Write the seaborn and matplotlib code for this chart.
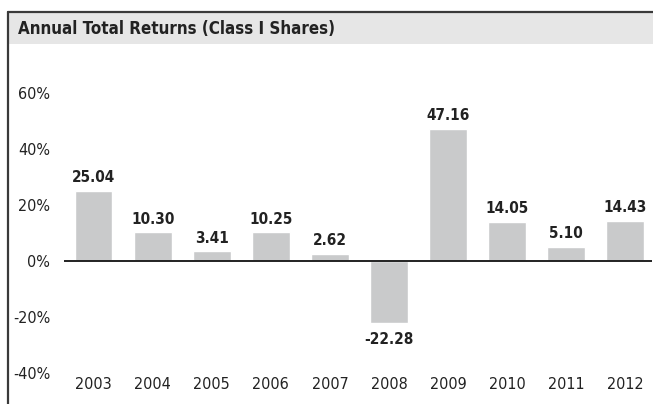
import matplotlib
matplotlib.use("Agg")
import matplotlib.pyplot as plt
import seaborn as sns
import pandas as pd
from matplotlib.patches import Rectangle
from matplotlib.lines import Line2D

years = ["2003", "2004", "2005", "2006", "2007", "2008", "2009", "2010", "2011", "2012"]
returns = [25.04, 10.30, 3.41, 10.25, 2.62, -22.28, 47.16, 14.05, 5.10, 14.43]
yticks = [-40, -20, 0, 20, 40, 60]
title = "Annual Total Returns (Class I Shares)"

sns.set_style("white")
plt.rcParams["font.family"] = ["DejaVu Sans"]
plt.rcParams["font.stretch"] = "condensed"

df = pd.DataFrame({"year": years, "ret": returns})

W, H = 653, 404
fig = plt.figure(figsize=(W / 100, H / 100), dpi=100)

# header band and frame
fig.patches.append(Rectangle((8 / W, 1 - 44 / H), 1, 31 / H, transform=fig.transFigure,
                             facecolor="#e6e6e6", edgecolor="none", zorder=0))
fig.lines.append(Line2D([8 / W, 8 / W], [0, 1 - 12 / H], transform=fig.transFigure,
                        color="#3a3a3a", lw=1.6))
fig.lines.append(Line2D([8 / W, 1], [1 - 12 / H, 1 - 12 / H], transform=fig.transFigure,
                        color="#3a3a3a", lw=1.6))
fig.text(18 / W, 1 - 29 / H, title, fontsize=12.2, fontweight="bold", va="center",
         ha="left", color="#222222")

ax = fig.add_axes([64 / W, (H - 373) / H, (652 - 64) / W, (373 - 50) / H])
sns.barplot(data=df, x="year", y="ret", color="#c9cacb", width=0.64, saturation=1,
            ax=ax)
ax.set_xlim(-0.5, 9.45)
ax.set_ylim(-40, -40 + (373 - 50) / 2.8)
ax.axhline(0, color="#222222", lw=1.4)

for i, v in enumerate(returns):
    if v >= 0:
        ax.annotate(f"{v:.2f}", (i, v), xytext=(0, 4), textcoords="offset points",
                    ha="center", va="bottom", fontsize=11, fontweight="bold",
                    color="#222222")
    else:
        ax.annotate(f"{v:.2f}", (i, v), xytext=(0, -6), textcoords="offset points",
                    ha="center", va="top", fontsize=11, fontweight="bold",
                    color="#222222")

ax.set_yticks(yticks)
ax.set_yticklabels([f"{t}%" for t in yticks])
ax.tick_params(axis="y", length=0, pad=10, labelsize=11.5, labelcolor="#222222")
ax.tick_params(axis="x", length=0, pad=3, labelsize=11.5, labelcolor="#222222")
ax.set_xlabel("")
ax.set_ylabel("")
for s in ax.spines.values():
    s.set_visible(False)

fig.savefig("out.png", dpi=100)
